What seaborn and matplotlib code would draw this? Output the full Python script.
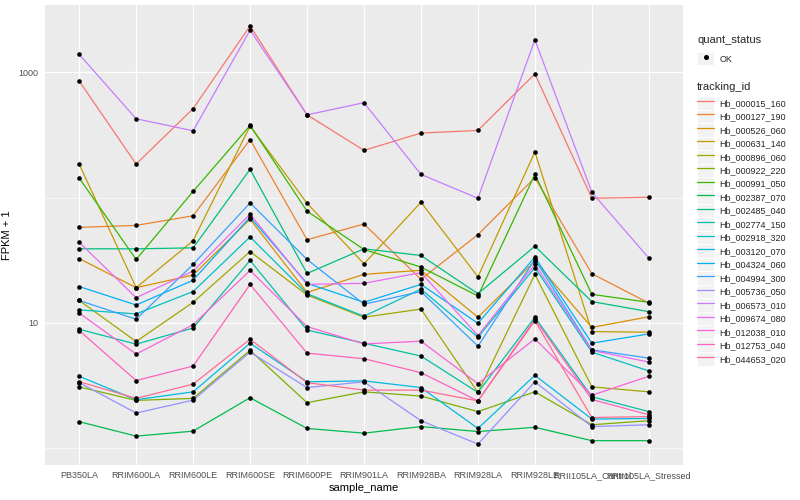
import pandas as pd
import matplotlib.pyplot as plt
import seaborn as sns
from matplotlib.lines import Line2D
from matplotlib.patches import Rectangle
from matplotlib.legend_handler import HandlerLine2D
from matplotlib.ticker import FixedLocator, FuncFormatter, NullFormatter


samples = ["PB350LA", "RRIM600LA", "RRIM600LE", "RRIM600SE", "RRIM600PE",
           "RRIM901LA", "RRIM928BA", "RRIM928LA", "RRIM928LE",
           "RRII105LA_Control", "RRII105LA_Stressed"]

tracking_ids = ["Hb_000015_160", "Hb_000127_190", "Hb_000526_060", "Hb_000631_140",
                "Hb_000896_060", "Hb_000922_220", "Hb_000991_050", "Hb_002387_070",
                "Hb_002485_040", "Hb_002774_150", "Hb_002918_320", "Hb_003120_070",
                "Hb_004324_060", "Hb_004994_300", "Hb_005736_050", "Hb_006573_010",
                "Hb_009674_080", "Hb_012038_010", "Hb_012753_040", "Hb_044653_020"]

# FPKM + 1 per sample
hb_000015_160 = [850, 185, 512, 2340, 457, 238, 327, 343, 970, 98.7, 100.5]
hb_000127_190 = [57.8, 60.0, 71.5, 290, 46.1, 61.5, 22.3, 50.6, 144, 24.7, 14.4]
hb_000526_060 = [32.6, 19.1, 24.1, 67.3, 17.5, 24.4, 26.3, 11.1, 31.1, 9.2, 11.2]
hb_000631_140 = [185, 19.1, 45.3, 372, 90.1, 29.6, 91.8, 23.3, 231, 8.53, 8.43]
hb_000896_060 = [15.1, 7.11, 14.6, 37.1, 16.7, 11.1, 12.9, 2.79, 24.4, 3.09, 2.82]
hb_000922_220 = [3.09, 2.41, 2.50, 6.04, 2.31, 2.82, 2.61, 1.96, 2.82, 1.54, 1.66]
hb_000991_050 = [143, 32.1, 112, 376, 77.9, 38.5, 27.9, 16.4, 153, 16.9, 14.6]
hb_002387_070 = [1.63, 1.25, 1.37, 2.53, 1.44, 1.32, 1.49, 1.36, 1.47, 1.15, 1.15]
hb_002485_040 = [39.0, 39.0, 39.7, 168, 24.8, 39.0, 34.5, 17.1, 40.9, 14.8, 12.3]
hb_002774_150 = [8.9, 6.77, 9.11, 31.5, 8.78, 6.89, 5.44, 2.79, 11.1, 2.58, 1.96]
hb_002918_320 = [12.7, 11.8, 17.8, 48.5, 17.1, 11.3, 18.6, 7.69, 27.6, 5.85, 4.14]
hb_003120_070 = [3.75, 2.44, 2.82, 6.89, 3.39, 3.45, 3.05, 1.44, 3.82, 1.71, 1.73]
hb_004324_060 = [19.5, 13.9, 21.9, 69.8, 20.7, 14.6, 20.3, 9.93, 33.5, 6.89, 8.17]
hb_004994_300 = [15.1, 10.7, 29.3, 90.6, 32.1, 14.1, 17.8, 6.53, 32.1, 6.10, 5.24]
hb_005736_050 = [3.34, 1.91, 2.42, 5.85, 3.05, 3.39, 1.66, 1.08, 3.39, 1.49, 1.54]
hb_006573_010 = [1388, 425, 341, 2163, 457, 571, 153, 98.7, 1815, 110, 32.9]
hb_009674_080 = [44.0, 15.9, 25.9, 73.7, 20.3, 20.7, 25.2, 7.93, 29.3, 6.04, 4.87]
hb_012038_010 = [12.0, 5.64, 9.69, 26.2, 9.35, 6.80, 7.15, 3.28, 7.46, 2.65, 3.75]
hb_012753_040 = [8.69, 3.47, 4.53, 20.3, 5.74, 5.18, 4.01, 2.39, 10.7, 2.45, 1.85]
hb_044653_020 = [3.40, 2.50, 3.25, 7.41, 3.34, 2.91, 2.91, 2.39, 10.4, 1.76, 1.79]

series = [hb_000015_160, hb_000127_190, hb_000526_060, hb_000631_140, hb_000896_060,
          hb_000922_220, hb_000991_050, hb_002387_070, hb_002485_040, hb_002774_150,
          hb_002918_320, hb_003120_070, hb_004324_060, hb_004994_300, hb_005736_050,
          hb_006573_010, hb_009674_080, hb_012038_010, hb_012753_040, hb_044653_020]

# ggplot2 default hue palette for 20 levels
colors = ["#F8766D", "#EA8331", "#D89000", "#C09B00", "#A3A500", "#7CAE00", "#39B600",
          "#00BB4E", "#00BF7D", "#00C1A3", "#00BFC4", "#00BAE0", "#00B0F6", "#35A2FF",
          "#9590FF", "#C77CFF", "#E76BF3", "#FA62DB", "#FF62BC", "#FF6C91"]

rows = []
for tid, vals in zip(tracking_ids, series):
    for s, v in zip(samples, vals):
        rows.append({"tracking_id": tid, "sample_name": s, "fpkm": v, "quant_status": "OK"})
df = pd.DataFrame(rows)
palette = dict(zip(tracking_ids, colors))

sns.set_theme(style="darkgrid", rc={
    "axes.facecolor": "#EBEBEB",
    "figure.facecolor": "white",
    "grid.color": "white",
})
plt.rcParams["font.family"] = ["Liberation Sans", "DejaVu Sans"]

fig = plt.figure(figsize=(8, 5), dpi=100)
ax = fig.add_axes([45 / 800, 1 - 465 / 500, 638 / 800, 460 / 500])

sns.lineplot(data=df, x="sample_name", y="fpkm", hue="tracking_id",
             hue_order=tracking_ids, palette=palette, sort=False,
             estimator=None, linewidth=0.9, legend=False, ax=ax)
sns.scatterplot(data=df, x="sample_name", y="fpkm", color="black", s=11,
                linewidth=0, legend=False, ax=ax, zorder=3)

ax.set_yscale("log")
ax.margins(y=0.05)
ax.set_xlim(-0.6, len(samples) - 0.4)

ax.yaxis.set_major_locator(FixedLocator([10, 1000]))
ax.yaxis.set_major_formatter(FuncFormatter(lambda v, _: f"{v:g}"))
ax.yaxis.set_minor_locator(FixedLocator([1, 100]))
ax.yaxis.set_minor_formatter(NullFormatter())

ax.grid(which="major", color="white", linewidth=0.9)
ax.grid(which="minor", axis="y", color="white", linewidth=0.45)
ax.tick_params(which="major", length=2.5, width=0.7, color="#333333",
               labelsize=6.5, labelcolor="#4D4D4D", pad=2)
ax.tick_params(which="minor", length=0)
for sp in ax.spines.values():
    sp.set_visible(False)

ax.set_xlabel("sample_name", fontsize=8, labelpad=2, color="black")
ax.set_ylabel("FPKM + 1", fontsize=8, labelpad=5, color="black")


class KeyHandler(HandlerLine2D):
    def create_artists(self, legend, orig_handle, xdescent, ydescent,
                       width, height, fontsize, trans):
        bg = Rectangle((-xdescent, -ydescent), width, height, facecolor="#F2F2F2",
                       edgecolor="white", linewidth=0.6, transform=trans)
        arts = super().create_artists(legend, orig_handle, xdescent, ydescent,
                                      width, height, fontsize, trans)
        return [bg] + list(arts)


leg_kw = dict(loc="upper left", frameon=False, borderpad=0, borderaxespad=0,
              fontsize=6.5, title_fontsize=8, handlelength=1.92, handleheight=1.92,
              labelspacing=0, handletextpad=0.6, alignment="left")

ok_handle = [Line2D([], [], marker="o", color="black", linestyle="none", markersize=2.6)]
leg1 = fig.legend(ok_handle, ["OK"], title="quant_status",
                  bbox_to_anchor=(697 / 800, 1 - 35 / 500),
                  handler_map={Line2D: KeyHandler(xpad=0)}, **leg_kw)
leg1._legend_box.sep = 5

track_handles = [Line2D([], [], color=palette[t], linewidth=0.9) for t in tracking_ids]
leg2 = fig.legend(track_handles, tracking_ids, title="tracking_id",
                  bbox_to_anchor=(697 / 800, 1 - 82 / 500),
                  handler_map={Line2D: KeyHandler(xpad=0)}, **leg_kw)
leg2._legend_box.sep = 3

fig.savefig("out.png", dpi=100)
